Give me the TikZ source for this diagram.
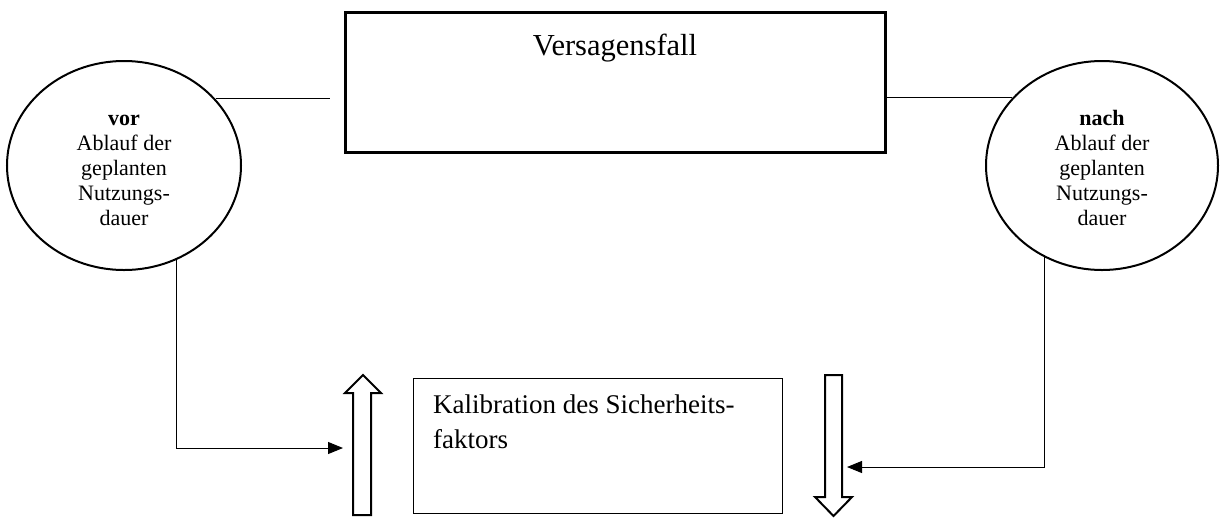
\documentclass[tikz,border=0pt]{standalone}
\usepackage{fontspec}
\setmainfont{Liberation Serif}
\usetikzlibrary{shapes.geometric,arrows.meta}

\tikzset{
  phase/.style={ellipse, draw, line width=2pt, minimum width=234pt, minimum height=209pt,
    inner sep=0pt, align=center, font=\fontsize{22}{25}\selectfont},
  mainbox/.style={rectangle, draw, line width=2.5pt, anchor=north west, inner sep=0pt},
  calbox/.style={rectangle, draw, line width=0.9pt, anchor=north west, inner sep=0pt},
  link/.style={line width=1pt},
  linkarrow/.style={line width=1pt, -{Triangle[length=15pt,width=12pt]}},
  blockarrow/.style={draw, line width=2pt, fill=white, line join=miter},
}
% a little extra room above the first line of the ellipse texts
\newcommand{\toplift}{\rule{0pt}{21pt}}

\begin{document}
\begin{tikzpicture}[x=1pt, y=-1pt]
  \useasboundingbox (0,0) rectangle (1220,517);

  % failure case box and its title
  \node[mainbox, minimum width=540pt, minimum height=140pt] (fail) at (344,11) {};
  \node[anchor=base, inner sep=0pt, font=\fontsize{30.5}{34}\selectfont] (failtxt) at (615,55) {Versagensfall};

  % before / after the planned service life
  \node[phase] (before) at (124,165.5) {\toplift\textbf{vor}\\Ablauf der\\geplanten\\Nutzungs-\\dauer};
  \node[phase, minimum width=232pt] (after) at (1102,165.5) {\toplift\textbf{nach}\\Ablauf der\\geplanten\\Nutzungs-\\dauer};

  % calibration box
  \node[calbox, minimum width=369pt, minimum height=135pt] (calib) at (413,378) {};
  \node[anchor=north west, inner sep=0pt, align=left, font=\fontsize{27}{35}\selectfont] (calibtxt)
    at (433,394.6) {Kalibration des Sicherheits-\\faktors};

  % hollow block arrows (up and down)
  \draw[blockarrow] (353,515) -- (353,393) -- (345,393) -- (363,375) -- (381,393)
    -- (371,393) -- (371,515) -- cycle;
  \draw[blockarrow] (825,375) -- (842,375) -- (842,497) -- (852,497) -- (833.5,516)
    -- (815,497) -- (825,497) -- cycle;
  \coordinate (upin) at (343,448);
  \coordinate (downin) at (847,467);

  % connectors
  \coordinate (lgap) at (330,99);
  \draw[link] (before.36.4) -- (before.36.4 -| lgap);
  \draw[link] (after.143.4) -- (after.143.4 -| fail.east);
  \draw[linkarrow] (before.-61) |- (upin);
  \draw[linkarrow] (after.-122.6) |- (downin);
\end{tikzpicture}
\end{document}
